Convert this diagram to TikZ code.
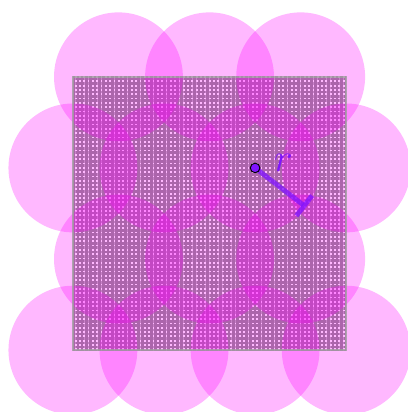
\documentclass[tikz,border=0pt]{standalone}
\usepackage{xcolor}
\usepackage{tikz}
\usetikzlibrary{patterns.meta, arrows.meta}

\definecolor{disccol}{RGB}{255,0,255}
\definecolor{radcol}{RGB}{128,20,255}

\begin{document}
\begin{tikzpicture}[x=2cm, y=2cm,
        disc/.style={fill=disccol, fill opacity=0.28, draw=none},
        region/.style={pattern={Hatch[distance=2.7pt, line width=1.6pt]}, pattern color=gray!90},
        radius/.style={draw=radcol, line width=3pt, draw opacity=0.75, -{Bar[width=16pt, line width=3pt]}},
        dot/.style={circle, fill=radcol, draw=black, line width=0.6pt, inner sep=0pt, minimum size=6pt}]
        \useasboundingbox (-0.8,-0.679) rectangle (3.669,3.843);
        
        \path[region] (0,0) rectangle (3,3);
        
        % offset rows
        \foreach \y in {1,3}
            \foreach \x in {0.5,1.5,2.5}
                \path[disc] (\x,\y) circle (0.7071);
        \foreach \y in {0,2}
            \foreach \x in {0,1,2,3}
                \path[disc] (\x,\y) circle (0.7071);
        
        \draw[gray!75, line width=1.2pt, draw opacity=0.8] (0,0) rectangle (3,3);
        
        \coordinate (ctr) at (2,2);
        \coordinate (rim) at (2.560,1.569);
        \draw[radius] (ctr) -- (rim);
        \node[dot] (ctrdot) at (ctr) {};
        \node[text=radcol, font=\Huge] (rlabel) at (2.31,2.05) {$r$};
        
    \end{tikzpicture}
\end{document}
